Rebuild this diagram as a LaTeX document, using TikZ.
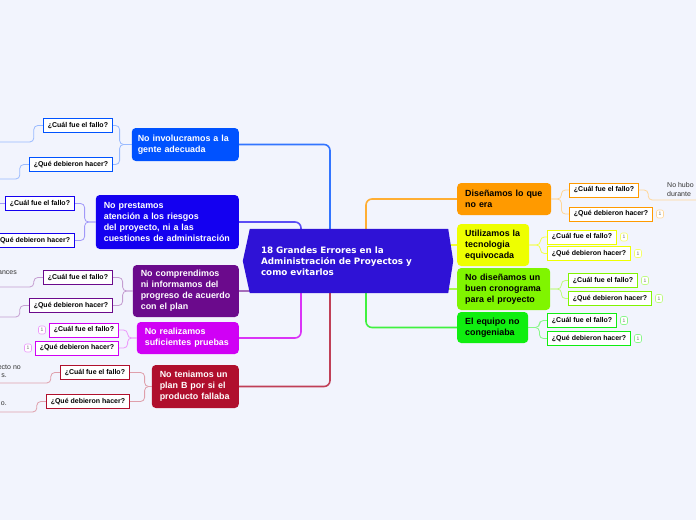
\documentclass[tikz,border=0pt]{standalone}
\usepackage{fontspec}
\setmainfont{Liberation Sans}
\newfontfamily\titlefont{DejaVu Sans}
\usetikzlibrary{positioning,calc,backgrounds}
\definecolor{cPage}{HTML}{F2F4FD}
\definecolor{cTitle}{HTML}{2F12D6}
\definecolor{cInvol}{HTML}{0052FF}
\definecolor{cRiesgo}{HTML}{1400F0}
\definecolor{cProgreso}{HTML}{6B0A8C}
\definecolor{cPruebas}{HTML}{D000F5}
\definecolor{cPlanB}{HTML}{B00F2D}
\definecolor{cDiseno}{HTML}{FF9A00}
\definecolor{cTecno}{HTML}{EEFF00}
\definecolor{cCrono}{HTML}{80F500}
\definecolor{cEquipo}{HTML}{10EE10}

\begin{document}
\begin{tikzpicture}[
  x=1pt, y=-1pt,
  branch/.style={rounded corners=4pt, align=left, inner xsep=8pt, inner ysep=2pt,
                 font=\bfseries\fontsize{8.9}{11}\selectfont},
  lbranch/.style={branch, anchor=east, text=white},
  rbranch/.style={branch, anchor=west, text=black},
  ask/.style={draw, fill=white, line width=0.9pt, inner xsep=4.5pt, inner ysep=0pt,
              minimum height=14pt, font=\bfseries\fontsize{7}{8}\selectfont},
  lask/.style={ask, anchor=east},
  rask/.style={ask, anchor=west},
  badge/.style={draw, fill=white, rounded corners=2pt, line width=0.6pt, inner sep=0pt,
                minimum width=7pt, minimum height=8pt, text=black!55,
                font=\fontsize{5}{5}\selectfont},
  leaf/.style={inner sep=0pt, text=black!80, font=\fontsize{7}{9}\selectfont},
  trunk/.style={line width=1.6pt, rounded corners=6pt},
  twig/.style={line width=0.8pt, rounded corners=4pt},
]
\useasboundingbox (0,0) rectangle (696,520);

% ---- Central topic ----
\node[text=white, align=left, text width=176pt, inner xsep=11pt, minimum height=64pt,
      font=\titlefont\bfseries\fontsize{8.8}{11}\selectfont] (title) at (349,261)
      {18 Grandes Errores en la\\Administración de Proyectos y\\como evitarlos};

% ---- Left branches ----
\node[lbranch, fill=cInvol, text width=95pt, inner xsep=6pt, minimum height=33pt] (invol) at (239,144.5)
      {No involucramos a la\\gente adecuada};
\node[lbranch, fill=cRiesgo, text width=127pt, minimum height=54pt] (riesgo) at (239,222)
      {No prestamos\\atención a los riesgos\\del proyecto, ni a las\\cuestiones de administración};
\node[lbranch, fill=cProgreso, text width=90pt, minimum height=52pt] (progreso) at (239,291)
      {No comprendimos\\ni informamos del\\progreso de acuerdo\\con el plan};
\node[lbranch, fill=cPruebas, text width=86pt, minimum height=32pt] (pruebas) at (239,338)
      {No realizamos\\suficientes pruebas};
\node[lbranch, fill=cPlanB, text width=71pt, minimum height=43pt] (planb) at (239,386.5)
      {No teniamos un\\plan B por si el\\producto fallaba};

% ---- Right branches ----
\node[rbranch, fill=cDiseno, text width=78pt, minimum height=32pt] (diseno) at (457,199)
      {Diseñamos lo que\\no era};
\node[rbranch, fill=cTecno, text width=56pt, minimum height=42pt] (tecno) at (457,245)
      {Utilizamos la\\tecnologia\\equivocada};
\node[rbranch, fill=cCrono, text width=77pt, minimum height=42pt] (crono) at (457,289)
      {No diseñamos un\\buen cronograma\\para el proyecto};
\node[rbranch, fill=cEquipo, text width=55pt, minimum height=31pt] (equipo) at (457,327.5)
      {El equipo no\\congeniaba};

% ---- Questions, left ----
\node[lask, draw=cInvol] (involF) at (113,125.5) {¿Cuál fue el fallo?};
\node[lask, draw=cInvol] (involD) at (113,164.5) {¿Qué debieron hacer?};
\node[lask, draw=cRiesgo] (riesgoF) at (75,203.5) {¿Cuál fue el fallo?};
\node[lask, draw=cRiesgo] (riesgoD) at (75,240.5) {¿Qué debieron hacer?};
\node[lask, draw=cProgreso] (progresoF) at (113,277.5) {¿Cuál fue el fallo?};
\node[lask, draw=cProgreso] (progresoD) at (113,305.5) {¿Qué debieron hacer?};
\node[lask, draw=cPruebas] (pruebasF) at (119,330) {¿Cuál fue el fallo?};
\node[lask, draw=cPruebas] (pruebasD) at (119,348) {¿Qué debieron hacer?};
\node[lask, draw=cPlanB] (planbF) at (130,372.5) {¿Cuál fue el fallo?};
\node[lask, draw=cPlanB] (planbD) at (130,401.5) {¿Qué debieron hacer?};

% ---- Questions, right ----
\node[rask, draw=cDiseno] (disenoF) at (569,190) {¿Cuál fue el fallo?};
\node[rask, draw=cDiseno] (disenoD) at (569,214) {¿Qué debieron hacer?};
\node[rask, draw=cTecno] (tecnoF) at (547,237) {¿Cuál fue el fallo?};
\node[rask, draw=cTecno] (tecnoD) at (547,253.5) {¿Qué debieron hacer?};
\node[rask, draw=cCrono] (cronoF) at (568,280.5) {¿Cuál fue el fallo?};
\node[rask, draw=cCrono] (cronoD) at (568,298.5) {¿Qué debieron hacer?};
\node[rask, draw=cEquipo] (equipoF) at (547,320.5) {¿Cuál fue el fallo?};
\node[rask, draw=cEquipo] (equipoD) at (547,338.5) {¿Qué debieron hacer?};

% ---- Badges ----
\node[badge, draw=cPruebas!40, left=3pt of pruebasF] (pruebasF1) {1};
\node[badge, draw=cPruebas!40, left=3pt of pruebasD] (pruebasD1) {1};
\node[badge, draw=cDiseno!40, right=3pt of disenoD] (disenoD1) {1};
\node[badge, draw=cTecno!60, right=3pt of tecnoF] (tecnoF1) {1};
\node[badge, draw=cTecno!60, right=3pt of tecnoD] (tecnoD1) {1};
\node[badge, draw=cCrono!50, right=3pt of cronoF] (cronoF1) {1};
\node[badge, draw=cCrono!50, right=3pt of cronoD] (cronoD1) {1};
\node[badge, draw=cEquipo!50, right=3pt of equipoF] (equipoF1) {1};
\node[badge, draw=cEquipo!50, right=3pt of equipoD] (equipoD1) {1};

% ---- Answers cut by the page edge ----
\node[leaf, anchor=base east] (progresoFtxt) at (17,274) {ances};
\node[leaf, anchor=base east] (planbFtxt) at (21,369) {ecto no};
\node[leaf, anchor=base east] (planbFtxt2) at (7,377) {s.};
\node[leaf, anchor=base east] (planbDtxt) at (7,405) {o.};
\node[leaf, anchor=base west] (disenoFtxt) at (667,187) {No hubo};
\node[leaf, anchor=base west] (disenoFtxt2) at (667,196) {durante};
\coordinate (involFend) at (0,142);
\coordinate (involDend) at (0,179);
\coordinate (riesgoFend) at (0,203.5);
\coordinate (progresoFend) at (0,287);
\coordinate (progresoDend) at (0,317);
\coordinate (planbFend) at (0,383);
\coordinate (planbDend) at (0,412);
\coordinate (disenoFend) at (696,200);

\begin{scope}[on background layer]
  \fill[cPage] (0,0) rectangle (696,520);
  % ---- Trunks from the central topic ----
  \draw[trunk, cInvol!80] (invol.east) -| ($(title.north)+(-19,0)$);
  \draw[trunk, cRiesgo!70] (riesgo.east) -| ($(title.north)+(-48,0)$);
  \draw[trunk, cProgreso!60] (progreso.east) -- (progreso.east -| title.center);
  \draw[trunk, cPruebas!80] (pruebas.east) -| ($(title.south)+(-48,0)$);
  \draw[trunk, cPlanB!80] (planb.east) -| ($(title.south)+(-19,0)$);
  \draw[trunk, cDiseno!80] (diseno.west) -| ($(title.north)+(17,0)$);
  \draw[trunk, cTecno!80] (tecno.west) -- (tecno.west -| title.center);
  \draw[trunk, cCrono!70] (crono.west) -- (crono.west -| title.center);
  \draw[trunk, cEquipo!80] (equipo.west) -| ($(title.south)+(17,0)$);
  \fill[cTitle] (title.north west) -- (title.north east) -- ($(title.east)+(5,0)$)
        -- (title.south east) -- (title.south west) -- ($(title.west)+(-7,0)$) -- cycle;
  % ---- Twigs to the questions ----
  \draw[twig, cInvol!40] (invol.west) -- ++(-12,0) |- (involF.east);
  \draw[twig, cInvol!40] (invol.west) -- ++(-12,0) |- (involD.east);
  \draw[twig, cRiesgo!40] (riesgo.west) -- ++(-11,0) |- (riesgoF.east);
  \draw[twig, cRiesgo!40] (riesgo.west) -- ++(-11,0) |- (riesgoD.east);
  \draw[twig, cProgreso!40] (progreso.west) -- ++(-10,0) |- (progresoF.east);
  \draw[twig, cProgreso!40] (progreso.west) -- ++(-10,0) |- (progresoD.east);
  \draw[twig, cPruebas!40] (pruebas.west) -- ++(-9,0) |- (pruebasF.east);
  \draw[twig, cPruebas!40] (pruebas.west) -- ++(-9,0) |- (pruebasD.east);
  \draw[twig, cPlanB!40] (planb.west) -- ++(-7,0) |- (planbF.east);
  \draw[twig, cPlanB!40] (planb.west) -- ++(-7,0) |- (planbD.east);
  \draw[twig, cDiseno!40] (diseno.east) -- ++(10,0) |- (disenoF.west);
  \draw[twig, cDiseno!40] (diseno.east) -- ++(10,0) |- (disenoD.west);
  \draw[twig, cTecno!70] (tecno.east) -- ++(11,0) |- (tecnoF.west);
  \draw[twig, cTecno!70] (tecno.east) -- ++(11,0) |- (tecnoD.west);
  \draw[twig, cCrono!50] (crono.east) -- ++(11,0) |- (cronoF.west);
  \draw[twig, cCrono!50] (crono.east) -- ++(11,0) |- (cronoD.west);
  \draw[twig, cEquipo!50] (equipo.east) -- ++(11,0) |- (equipoF.west);
  \draw[twig, cEquipo!50] (equipo.east) -- ++(11,0) |- (equipoD.west);
  % ---- Twigs to the answers ----
  \draw[twig, cInvol!40] (involF.west) -- ++(-9,0) |- (involFend);
  \draw[twig, cInvol!40] (involD.west) -- ++(-9,0) |- (involDend);
  \draw[twig, cRiesgo!40] (riesgoF.west) -- (riesgoFend);
  \draw[twig, cProgreso!40] (progresoF.west) -- ++(-9,0) |- (progresoFend);
  \draw[twig, cProgreso!40] (progresoD.west) -- ++(-9,0) |- (progresoDend);
  \draw[twig, cPlanB!40] (planbF.west) -- ++(-9,0) |- (planbFend);
  \draw[twig, cPlanB!40] (planbD.west) -- ++(-9,0) |- (planbDend);
  \draw[twig, cDiseno!40] (disenoF.east) -- ++(9,0) |- (disenoFend);
\end{scope}
\end{tikzpicture}
\end{document}
